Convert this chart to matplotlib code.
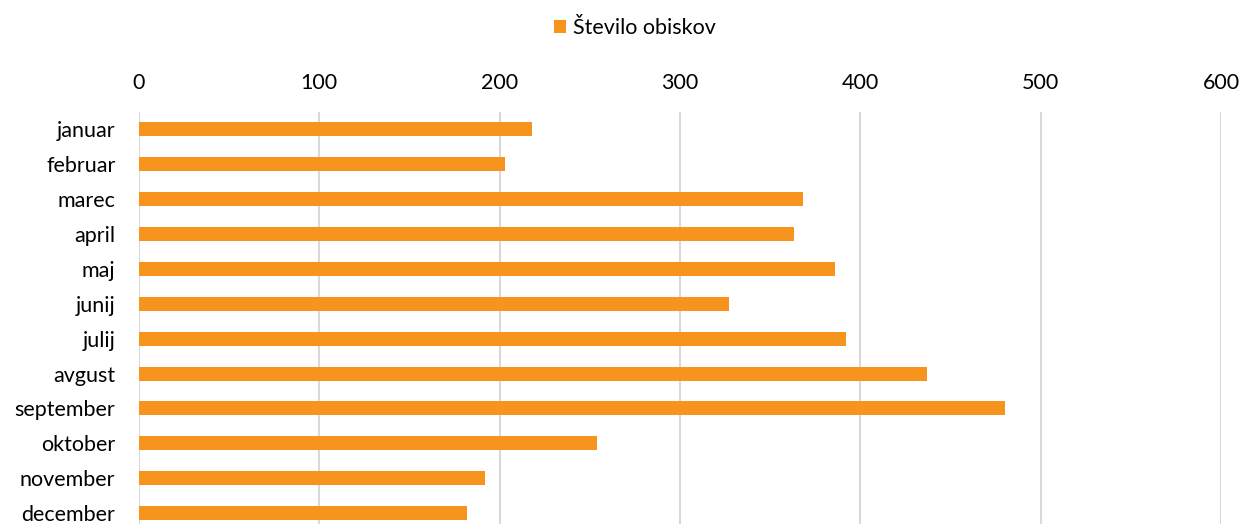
import matplotlib
matplotlib.use('Agg')
import matplotlib.pyplot as plt

# monthly visits
months = ['januar', 'februar', 'marec', 'april', 'maj', 'junij',
          'julij', 'avgust', 'september', 'oktober', 'november', 'december']
visits = [218, 203, 368, 363, 386, 327, 392, 437, 480, 254, 192, 182]
x_ticks = [0, 100, 200, 300, 400, 500, 600]
series_name = 'Število obiskov'

plt.rcParams['font.family'] = ['Lato', 'DejaVu Sans']
fs = 15.5

fig = plt.figure(figsize=(12.42, 5.24), dpi=100)
ax = fig.add_axes([139/1242, -6.5/524, (1221-139)/1242, (524+6.5-112)/524])

ypos = list(range(len(months)))
ax.barh(ypos, visits, height=0.4, color='#F7941D', label=series_name, zorder=3)

ax.set_xlim(0, 600)
ax.set_ylim(len(months) - 0.5, -0.5)
ax.set_xticks(x_ticks)
ax.set_xticklabels([str(t) for t in x_ticks], fontsize=fs)
ax.xaxis.tick_top()
ax.set_yticks(ypos)
ax.set_yticklabels(months, fontsize=fs)
ax.tick_params(length=0)
ax.tick_params(axis='x', pad=14)
ax.tick_params(axis='y', pad=17)

ax.grid(axis='x', color='#D9D9D9', linewidth=1.5, zorder=0)
for s in ax.spines.values():
    s.set_visible(False)

fig.legend(loc='center', bbox_to_anchor=(635/1242, 1 - 28/524), frameon=False,
           fontsize=fs, handlelength=0.55, handleheight=0.55, handletextpad=0.3)

fig.savefig('out.png', dpi=100)
